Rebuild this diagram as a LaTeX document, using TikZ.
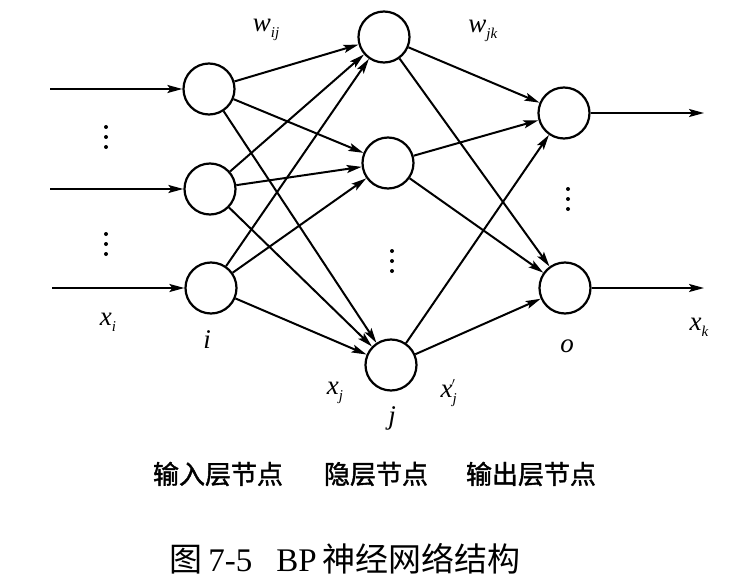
\documentclass[tikz,border=0pt]{standalone}
\usepackage{fontspec}
\setmainfont{Liberation Serif}
\newfontfamily\cjk{Noto Sans CJK SC}
\newfontfamily\cjkb[FakeBold=1.5]{Noto Sans CJK SC}
\usetikzlibrary{arrows.meta}
\newcommand{\vlab}[2]{\textit{#1}\raisebox{-6pt}{\fontsize{15}{15}\selectfont\textit{#2}}}
\begin{document}
\begin{tikzpicture}[x=1pt,y=-1pt,
  neuron/.style={circle,draw,line width=2.2pt,minimum size=51pt,inner sep=0pt},
  conn/.style={line width=2pt,-{Stealth[length=15pt,width=8pt,inset=3pt]}},
  lbl/.style={font=\fontsize{27}{27}\selectfont,inner sep=0pt},
  layer/.style={font=\cjkb\fontsize{26}{26}\selectfont,inner sep=0pt},
  captext/.style={font=\fontsize{33}{33}\selectfont,inner sep=0pt}]
\useasboundingbox (0,0) rectangle (748,586);
% input layer
\node[neuron] (i1) at (209,89) {};
\node[neuron] (i2) at (210,189) {};
\node[neuron] (i3) at (211,288) {};
% hidden layer
\node[neuron] (h1) at (384,37) {};
\node[neuron] (h2) at (388,163) {};
\node[neuron] (h3) at (391,365) {};
% output layer
\node[neuron] (o1) at (564,113) {};
\node[neuron] (o2) at (565,288) {};
% inputs
\coordinate (s1) at (50,89);
\coordinate (s2) at (50,189);
\coordinate (s3) at (52,288);
\draw[conn] (s1) -- (i1);
\draw[conn] (s2) -- (i2);
\draw[conn] (s3) -- (i3);
% outputs
\coordinate (e1) at (704,113);
\coordinate (e2) at (704,288);
\draw[conn] (o1) -- (e1);
\draw[conn] (o2) -- (e2);
% connections
\foreach \a in {i1,i2,i3}{\foreach \b in {h1,h2,h3}{\draw[conn] (\a) -- (\b);}}
\foreach \a in {h1,h2,h3}{\foreach \b in {o1,o2}{\draw[conn] (\a) -- (\b);}}
% dots
\foreach \x/\y in {106/127,106/234,392/251,568/189}{
  \foreach \k in {0,1,2}{\fill (\x,\y+\k*10) circle (2pt);}}
% labels
\node[lbl] (wij) at (266,30) {\vlab{w}{ij}};
\node[lbl] (wjk) at (483,31) {\vlab{w}{jk}};
\node[lbl] (xi) at (108,322) {\vlab{x}{i}};
\node[lbl] (il) at (207,340) {\textit{i}};
\node[lbl] (xj) at (335,393) {\vlab{x}{j}};
\node[lbl] (xpj) at (448,393) {\textit{x}\raisebox{-6pt}{\fontsize{15}{15}\selectfont\textit{j}}\hspace{-5pt}\raisebox{7pt}{\fontsize{15}{15}\selectfont$'$}};
\node[lbl] (jl) at (392,418) {\textit{j}};
\node[lbl] (ol) at (567,346) {\textit{o}};
\node[lbl] (xk) at (699,327) {\vlab{x}{k}};
% layer names
\node[layer] (t1) at (218,474) {输入层节点};
\node[layer] (t2) at (376,474) {隐层节点};
\node[layer] (t3) at (531,474) {输出层节点};
% caption
\node[captext] (caption) at (345,559) {{\cjk 图}\,7-5\hspace{24pt}BP\,{\cjk 神经网络结构}};
\end{tikzpicture}
\end{document}
